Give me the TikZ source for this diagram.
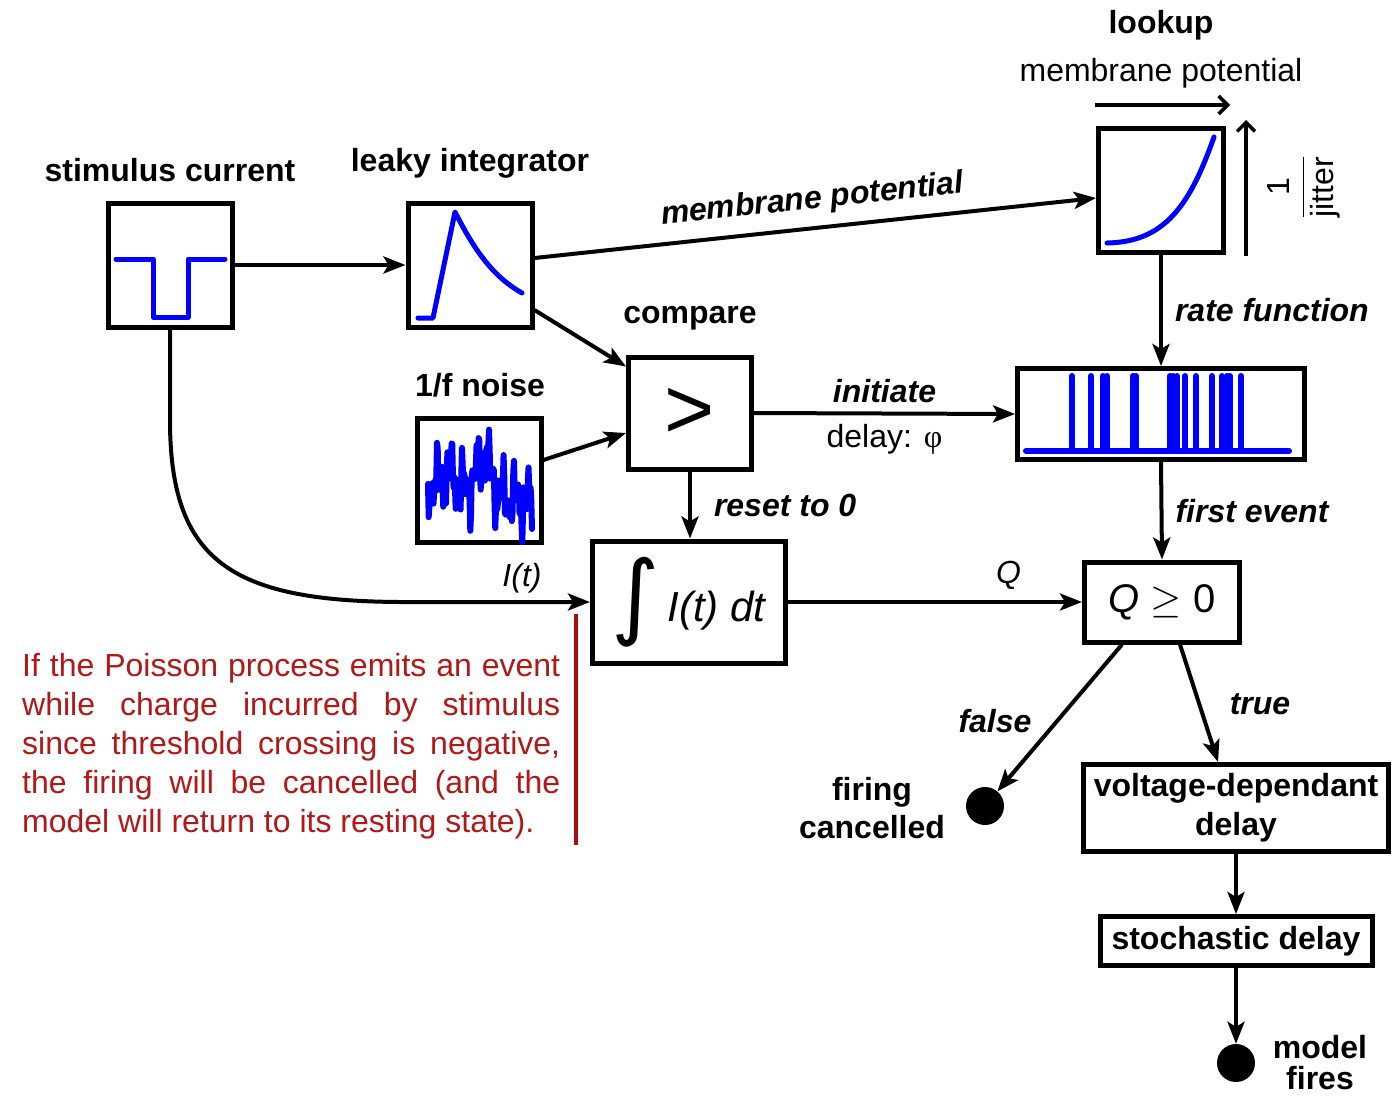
\documentclass[tikz,border=0pt]{standalone}
\usepackage{fix-cm}
\usepackage{amsmath}
\usepackage{exscale}
\usepackage{fontspec}
\setmainfont{Liberation Sans}
\newfontfamily\greekserif{Liberation Serif}
\newfontfamily\intfont{DejaVu Sans}
\usetikzlibrary{arrows.meta,calc}
\definecolor{plotblue}{RGB}{0,0,255}
\definecolor{notered}{RGB}{178,24,24}
\definecolor{barred}{RGB}{170,15,15}
\begin{document}
\begin{tikzpicture}[x=1pt,y=-1pt,
  blk/.style={draw, line width=5pt, inner sep=0pt, fill=white},
  lbl/.style={font=\fontsize{32}{38}\selectfont\bfseries, inner sep=0pt},
  elbl/.style={font=\fontsize{32}{38}\selectfont\bfseries\itshape, inner sep=0pt},
  plainlbl/.style={font=\fontsize{32}{38}\selectfont, inner sep=0pt},
  conn/.style={line width=4pt, -{Stealth[length=22pt,width=17pt,inset=5pt]}},
  axarrow/.style={line width=3.5pt, -{Straight Barb[length=9pt,width=18pt]}},
  wave/.style={plotblue, line width=5pt, line cap=round, line join=round},
  enddot/.style={circle, fill=black, minimum size=38pt, inner sep=0pt},
  note/.style={font=\fontsize{32}{39}\selectfont, text=notered, inner sep=0pt, anchor=base west}
]
\useasboundingbox (0,0) rectangle (1392,1104);

% boxes
\node[blk, minimum width=124pt, minimum height=124pt] (stim) at (170,265) {};
\node[blk, minimum width=124pt, minimum height=124pt] (leaky) at (470,265) {};
\node[blk, minimum width=125pt, minimum height=124pt] (lookup) at (1161,190) {};
\node[blk, minimum width=123pt, minimum height=112pt, font=\fontsize{86}{90}\selectfont] (compare) at (690,413) {\raisebox{-6pt}{>}};
\node[blk, minimum width=124pt, minimum height=124pt] (noise) at (479,480) {};
\node[blk, minimum width=287pt, minimum height=91pt] (spike) at (1161,414) {};
\node[blk, minimum width=193pt, minimum height=122pt, font=\fontsize{42}{48}\selectfont] (integ) at (689,602) {\raisebox{9pt}{$\vcenter{\hbox{\resizebox*{!}{90pt}{\intfont ∫}}}$}\hspace{8pt}\textit{I(t) dt}};
\node[blk, minimum width=155pt, minimum height=80pt, font=\fontsize{40}{48}\selectfont] (Q) at (1162,602) {\textit{Q} $\geq$ 0};
\node[blk, minimum width=305pt, minimum height=87pt, align=center, font=\fontsize{32}{39}\selectfont\bfseries] (volt) at (1236,808) {voltage-dependant\\delay};
\node[blk, minimum width=272pt, minimum height=49pt, font=\fontsize{32}{38}\selectfont\bfseries] (stoch) at (1236,941) {stochastic delay};
\node[enddot] (fire) at (985,806) {};
\node[enddot] (model) at (1236,1063) {};

% titles
\node[lbl] (stimlbl) at (170,170) {stimulus current};
\node[lbl] (leakylbl) at (470,163) {leaky integrator};
\node[lbl] (lookuplbl) at (1161,25) {lookup};
\node[plainlbl] (mplookup) at (1161,73) {membrane potential};
\node[lbl] (comparelbl) at (690,318) {compare};
\node[lbl] (noiselbl) at (480,385) {1/f noise};
\node[lbl, align=center, font=\fontsize{32}{38}\selectfont\bfseries] (firelbl) at (872,808) {firing\\cancelled};
\node[lbl, align=center, font=\fontsize{32}{31}\selectfont\bfseries] (modellbl) at (1320,1063) {model\\fires};
\node[plainlbl, rotate=90] (jitterlbl) at (1304,187) {$\displaystyle\frac{\mbox{1}}{\mbox{jitter}}$};

% lookup axes
\coordinate (hax0) at (1095,105);
\coordinate (hax1) at (1230,105);
\coordinate (vax0) at (1246,256);
\coordinate (vax1) at (1246,120);
\draw[axarrow] (hax0) -- (hax1);
\draw[axarrow] (vax0) -- (vax1);

% blue plots
\draw[wave] (116,259) -- (153,259) -- (153,317) -- (188,317) -- (188,259) -- (225,259);
\draw[wave] (418,318) -- (433,318) -- (455,212) .. controls (472,245) and (490,275) .. (522,293);
\draw[wave] (1107,243) .. controls (1165,242) and (1190,205) .. (1214,137);
\draw[wave, line width=6pt] plot[domain=0:150, samples=151, variable=\k]
  ({428+104*\k/150}, {484 + 20*\k/150 - 42*exp(0-((\k-80)^2)/180) - 12*exp(0-((\k-33)^2)/225) + 15*sin(19.3*\k) + 13*sin(48.7*\k) + 11*sin(101.3*\k) + 8*sin(71.9*\k)});
\draw[wave, line width=6pt] (1026,451) -- (1289,451);
\foreach \s in {1072,1091,1103,1107,1133,1136,1170,1173,1177,1185,1196,1212,1222,1227,1230,1241}
  \draw[wave, line width=6pt] (\s,451) -- (\s,376);

% connectors
\draw[conn] (stim.east) -- (leaky.west);
\draw[conn] ([yshift=7pt]leaky.east) -- node[sloped, above=11pt, elbl] (mplbl) {membrane potential} ([yshift=-8pt]lookup.west);
\draw[conn] ([yshift=-45pt]leaky.east) -- ([yshift=-12pt]compare.north west);
\draw[conn] ([yshift=20pt]noise.east) -- ([yshift=-20pt]compare.west);
\draw[conn] (compare.east) -- node[above=9pt, elbl] (initlbl) {initiate} node[below=9pt, plainlbl] (delaylbl) {delay: {\greekserif φ}} (spike.west);
\draw[conn] (compare.south) -- node[right=22pt, elbl] (resetlbl) {reset to 0} (compare.south |- integ.north);
\draw[conn] (lookup.south) -- node[right=12pt, elbl] (ratelbl) {rate function} (spike.north);
\draw[conn] (spike.south) -- node[right=12pt, elbl] (firstlbl) {first event} (Q.north);
\draw[conn] (integ.east) -- node[pos=0.75, above=10pt, plainlbl] (qlbl) {\textit{Q}} (Q.west);
\draw[conn] (stim.south) -- (170,420) .. controls (170,560) and (230,601) .. (400,602) -- (integ.west);
\node[plainlbl] (itlbl) at (522,578) {\textit{I(t)}};
\draw[conn] ([xshift=-40pt]Q.south) -- (fire);
\draw[conn] ([xshift=18pt]Q.south) -- ([xshift=-18pt]volt.north);
\node[elbl] (falselbl) at (995,721) {false};
\node[elbl] (truelbl) at (1260,704) {true};
\draw[conn] (volt.south) -- (stoch.north);
\draw[conn] (stoch.south) -- (model);

% note
\coordinate (bar0) at (576,614);
\coordinate (bar1) at (576,845);
\draw[barred, line width=4pt] (bar0) -- (bar1);
\node[note] (n1) at (22,676) {\hbox to 538pt{If\hfill the\hfill Poisson\hfill process\hfill emits\hfill an\hfill event}};
\node[note] (n2) at (22,715) {\hbox to 538pt{while\hfill charge\hfill incurred\hfill by\hfill stimulus}};
\node[note] (n3) at (22,754) {\hbox to 538pt{since\hfill threshold\hfill crossing\hfill is\hfill negative,}};
\node[note] (n4) at (22,793) {\hbox to 538pt{the\hfill firing\hfill will\hfill be\hfill cancelled\hfill (and\hfill the}};
\node[note] (n5) at (22,832) {model will return to its resting state).};
\end{tikzpicture}
\end{document}
